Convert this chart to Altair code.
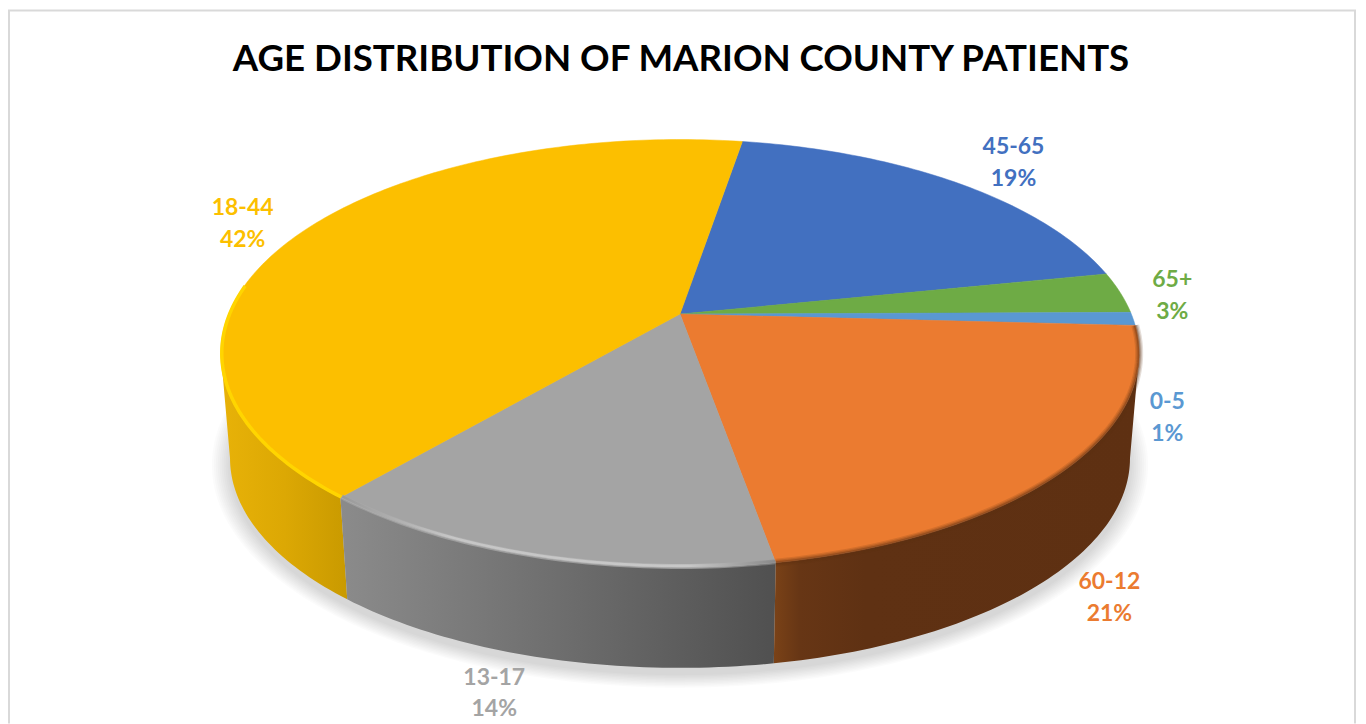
import math
import altair as alt
import pandas as pd

# ---- data ----
categories = ["45-65", "65+", "0-5", "60-12", "13-17", "18-44"]
slice_values = [19.2, 3.1, 1.0, 21.4, 14.0, 41.5]
percent_labels = ["19%", "3%", "1%", "21%", "14%", "42%"]
colors = ["#4270C0", "#6EAB45", "#5A98D2", "#EB7B30", "#A4A4A4", "#FCBF00"]
title_text = "AGE DISTRIBUTION OF MARION COUNTY PATIENTS"

# ---- layout (chart pixels = page pixels minus the 8px margin) ----
W, H = 1352, 716
CX, CY = 681 - 8, 314 - 8
A, B, K = 452.0, 207.0, 0.184      # perspective of the pie's top face
START = 80.6                       # angle of the first slice edge, degrees
BOT_SCALE, BOT_SHIFT = 0.98, 112 - 8 * 0.02
SIL_R, SIL_L = -10.6, -169.4       # angles of the silhouette of the wall
LABEL_XY = {
    "45-65": (1015, 147), "65+": (1174, 280), "0-5": (1169, 402),
    "60-12": (1111, 582), "13-17": (495, 678), "18-44": (243, 208),
}
FONT = "Lato"


def top(theta, r=1.0):
    t = math.radians(theta)
    w = 1 + K * r * math.sin(t)
    return CX + A * r * math.cos(t) / w, CY - B * r * math.sin(t) / w


def bottom(theta, r=1.0):
    x, y = top(theta, r)
    return CX + (x - CX) * BOT_SCALE, y * BOT_SCALE + BOT_SHIFT


def sweep(a, b, step=1.0):
    n = max(2, int(abs(b - a) / step) + 1)
    return [a + (b - a) * i / n for i in range(n + 1)]


def frame(points):
    return pd.DataFrame(
        {"x": [p[0] for p in points], "y": [p[1] for p in points], "i": range(len(points))}
    )


X = alt.X("x:Q", scale=alt.Scale(domain=[0, W], range=[0, W], nice=False, zero=False), axis=None)
Y = alt.Y("y:Q", scale=alt.Scale(domain=[0, H], range=[0, H], nice=False, zero=False), axis=None)


def shape(points, **mark):
    mark.setdefault("strokeWidth", 0)
    return alt.Chart(frame(points)).mark_line(**mark).encode(
        x=X, y=Y, order=alt.Order("i:Q", sort="ascending")
    )


def h_gradient(stops):
    return alt.LinearGradient(
        gradient="linear", x1=0, x2=1, y1=0, y2=0,
        stops=[alt.GradientStop(offset=o, color=c) for o, c in stops],
    )


# slice edges
total = sum(slice_values)
edges = [START]
for s in slice_values:
    edges.append(edges[-1] - s / total * 360)
slices = {c: (edges[i], edges[i + 1], colors[i]) for i, c in enumerate(categories)}

layers = []

# frame of the chart
layers.append(shape([(1, H), (1, 2), (W - 3, 2), (W - 3, H)], stroke="#D9D9D9", strokeWidth=2))

# soft shadow under the pie
circle = sweep(0, 360, 2)
for g in [28, 25, 22, 19, 16, 13, 10, 7, 4, 1]:
    fx = 1 + 0.65 * g / 450
    fy = 1 + g / 450
    pts = [
        (CX + (bottom(t)[0] - CX) * fx, 452 + (bottom(t)[1] - 452) * fy + 7)
        for t in circle
    ]
    layers.append(shape(pts, fill="#000000", fillOpacity=0.016))

# walls
walls = [
    (slices["18-44"][0], SIL_L, [(0, "#E8B208"), (0.5, "#DCA804"), (1, "#C99A00")]),
    (slices["13-17"][0], slices["13-17"][1], [(0, "#8B8B8B"), (0.5, "#6E6E6E"), (1, "#505050")]),
    (SIL_R, slices["60-12"][1], [(0, "#7A4217"), (0.07, "#673615"), (0.25, "#5F3113"), (1, "#5E3012")]),
]
for a, b, stops in walls:
    angles = sweep(a, b)
    pts = [top(t) for t in angles] + [bottom(t) for t in reversed(angles)]
    pts.append(pts[0])
    layers.append(shape(pts, fill=h_gradient(stops)))

# top face
for c in categories:
    a, b, col = slices[c]
    pts = [(CX, CY)] + [top(t) for t in sweep(a, b)] + [(CX, CY)]
    layers.append(shape(pts, fill=col, stroke=col, strokeWidth=0.5))

# bevel along the rim
o_a, o_b, _ = slices["60-12"]
g_a, g_b, _ = slices["13-17"]
y_a, _, _ = slices["18-44"]
for width, alpha in [(8, 0.16), (5.5, 0.22), (3, 0.35)]:
    layers.append(shape([top(t, 1.0) for t in sweep(o_a, o_b)], stroke="#5F3113",
                        strokeWidth=width, strokeOpacity=alpha))
layers.append(shape([top(t, 0.997) for t in sweep(g_a, g_b)],
                    stroke=h_gradient([(0, "#A8A8A8"), (0.25, "#B4B4B4"), (0.85, "#BEBEBE"), (1, "#8A8A8A")]),
                    strokeWidth=5, strokeOpacity=0.6))
layers.append(shape([top(t, 0.995) for t in sweep(g_a, g_b)],
                    stroke=h_gradient([(0, "#9A9A9A"), (0.25, "#C6C6C6"), (0.8, "#C8C8C8"), (1, "#8A8A8A")]),
                    strokeWidth=2.5))
layers.append(shape([top(t, 0.998) for t in sweep(y_a, -188)], stroke="#FFD500", strokeWidth=3.5))

# labels
lab = pd.DataFrame(
    {
        "x": [LABEL_XY[c][0] - 8 for c in categories],
        "y": [LABEL_XY[c][1] - 8 for c in categories],
        "t": [f"{c}\n{p}" for c, p in zip(categories, percent_labels)],
        "c": colors,
    }
)
layers.append(
    alt.Chart(lab).mark_text(
        font=FONT, fontSize=23, fontWeight="bold", lineBreak="\n", lineHeight=32,
        align="center", baseline="middle",
    ).encode(x=X, y=Y, text="t:N", color=alt.Color("c:N", scale=None))
)

chart = alt.layer(*layers).properties(
    width=W,
    height=H,
    padding=0,
    autosize=alt.AutoSizeParams(type="none"),
    title=alt.TitleParams(
        title_text, font=FONT, fontSize=36.7, fontWeight="bold", color="#000000",
        anchor="middle", frame="group", orient="top", baseline="middle", offset=0, dy=90, dx=-2,
    ),
).configure_view(stroke=None)

chart.save("out.html", embed_options={"renderer": "svg", "actions": False})
